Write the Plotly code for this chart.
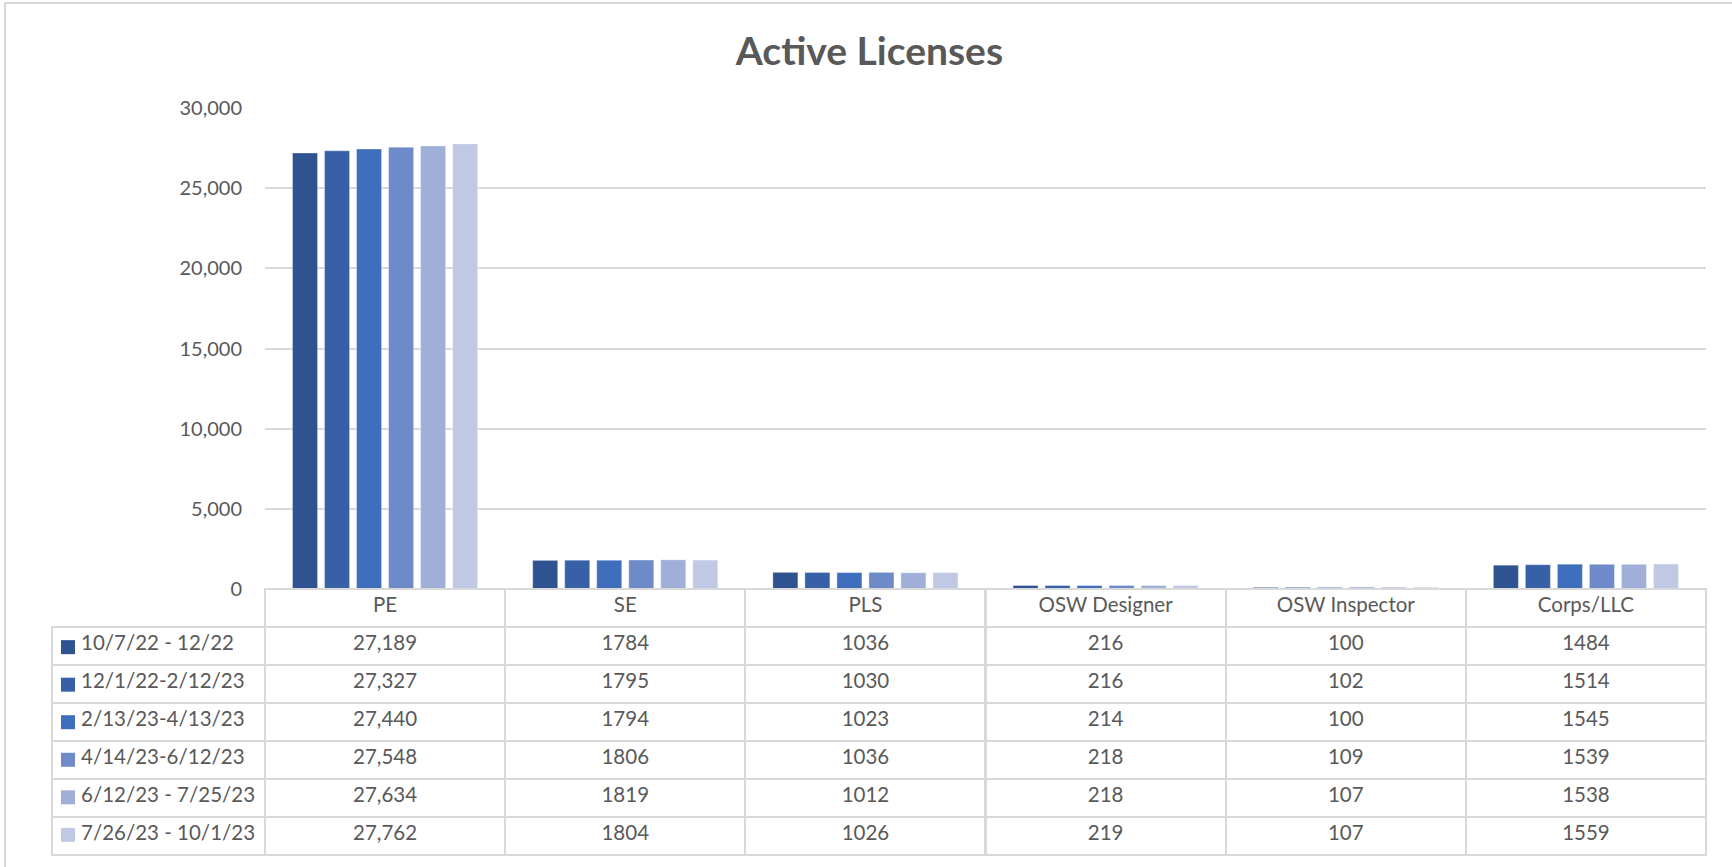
"""
Active Licenses — clustered bars with an Excel-style data table underneath.
"""

import plotly.graph_objects as go

W, H = 1732, 867

categories = ["PE", "SE", "PLS", "OSW Designer", "OSW Inspector", "Corps/LLC"]
periods = [
    "10/7/22 - 12/22",
    "12/1/22-2/12/23",
    "2/13/23-4/13/23",
    "4/14/23-6/12/23",
    "6/12/23 - 7/25/23",
    "7/26/23 - 10/1/23",
]
p1 = [27189, 1784, 1036, 216, 100, 1484]
p2 = [27327, 1795, 1030, 216, 102, 1514]
p3 = [27440, 1794, 1023, 214, 100, 1545]
p4 = [27548, 1806, 1036, 218, 109, 1539]
p5 = [27634, 1819, 1012, 218, 107, 1538]
p6 = [27762, 1804, 1026, 219, 107, 1559]
series = [p1, p2, p3, p4, p5, p6]
# Excel shows the PE column with a thousands separator, the rest plain
col_formats = [",", "", "", "", "", ""]
y_ticks = [0, 5000, 10000, 15000, 20000, 25000, 30000]

colors = ["#2F5290", "#3760A6", "#3F6EBC", "#6E8AC9", "#9FAFD8", "#BFC9E4"]
GREY = "#595959"
LINE = "#D9D9D9"
FONT = "Lato"
CLEAR = "rgba(0,0,0,0)"

# pixel layout (margins are zero, so paper == canvas)
px_left, px_right = 265, 1706
px_top, px_zero = 108, 589
tbl_left = 52
row_h = 38

fig = go.Figure()

for name, vals, c in zip(periods, series, colors):
    fig.add_trace(go.Bar(
        x=categories, y=vals, name=name,
        marker=dict(color=c, line=dict(color="rgba(255,255,255,0.6)", width=0.5)),
        showlegend=False,
    ))

# legend swatches sitting in the table's first column
fig.add_trace(go.Scatter(
    x=[16] * len(periods), y=periods,
    xaxis="x2", yaxis="y2",
    mode="markers",
    marker=dict(symbol="square", size=14, color=colors),
    showlegend=False, hoverinfo="skip",
))

# non-breaking spaces keep the table from wrapping the labels
pad = "\u00a0" * 4
label_col = [pad + p.replace(" ", "\u00a0") for p in periods]
value_cols = []
for j, fmt in enumerate(col_formats):
    value_cols.append([format(s[j], fmt) for s in series])

cat_w = (px_right - px_left) / len(categories)

fig.add_trace(go.Table(
    domain=dict(x=[tbl_left / W, px_right / W], y=[0, 1 - px_zero / H]),
    columnwidth=[px_left - tbl_left] + [cat_w] * len(categories),
    header=dict(
        values=[""] + categories,
        height=row_h,
        align="center",
        fill=dict(color=CLEAR),
        line=dict(color=[CLEAR] + [LINE] * len(categories),
                  width=[0] + [2] * len(categories)),
        font=dict(family=FONT, size=20.5, color=GREY),
    ),
    cells=dict(
        values=[label_col] + value_cols,
        height=row_h,
        align=["left"] + ["center"] * len(categories),
        fill=dict(color=CLEAR),
        line=dict(color=LINE, width=2),
        font=dict(family=FONT, size=20.5, color=GREY),
    ),
))

body_top = px_zero + row_h
body_bot = body_top + row_h * len(periods)

fig.update_layout(
    width=W, height=H,
    margin=dict(l=0, r=0, t=0, b=0, autoexpand=False),
    paper_bgcolor="white",
    plot_bgcolor="white",
    barmode="group",
    bargap=0.2,
    bargroupgap=0.22,
    font=dict(family=FONT, color=GREY),
    title=dict(
        text="<b>Active Licenses</b>",
        x=0.502, xanchor="center",
        y=1 - 51 / H, yanchor="middle",
        font=dict(family=FONT, size=39, color=GREY),
    ),
    xaxis=dict(
        domain=[px_left / W, px_right / W],
        showticklabels=False, showgrid=False, zeroline=False,
        range=[-0.5, len(categories) - 0.5],
    ),
    yaxis=dict(
        domain=[1 - px_zero / H, 1 - px_top / H],
        range=[0, 30000],
        tickvals=y_ticks,
        tickformat=",",
        showgrid=True, gridcolor=LINE, gridwidth=1.5,
        zeroline=True, zerolinecolor=LINE, zerolinewidth=1.5,
        showline=False,
        ticklabelstandoff=22,
        automargin=False,
        tickfont=dict(family=FONT, size=20, color=GREY),
    ),
    xaxis2=dict(
        domain=[tbl_left / W, px_left / W], range=[0, px_left - tbl_left],
        visible=False, fixedrange=True,
    ),
    yaxis2=dict(
        domain=[1 - body_bot / H, 1 - body_top / H],
        type="category", categoryarray=periods, autorange="reversed",
        visible=False, fixedrange=True,
    ),
    shapes=[dict(
        type="rect", xref="paper", yref="paper",
        x0=5 / W, x1=1.02, y0=-0.02, y1=1 - 3 / H,
        line=dict(color=LINE, width=2), fillcolor=CLEAR,
        layer="below",
    )],
)

fig.write_html(
    "out.html",
    config={"displayModeBar": False},
    post_script="document.body.style.margin = '0';",
)
